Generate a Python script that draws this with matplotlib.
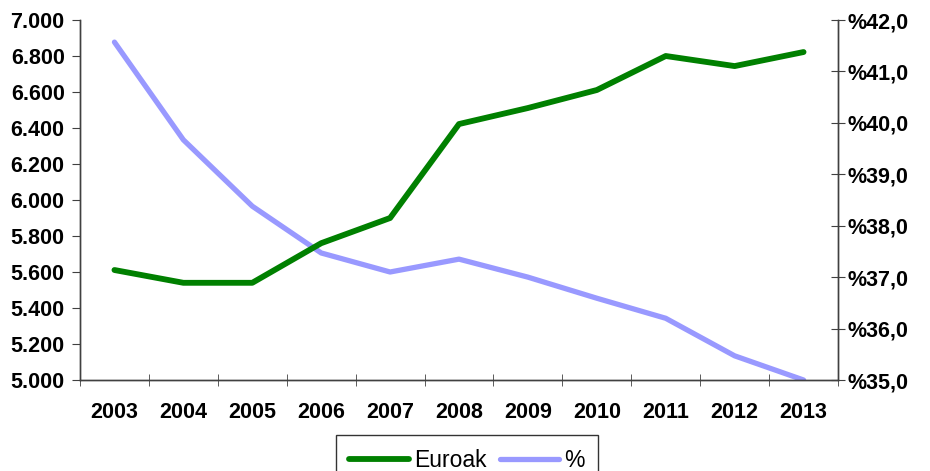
import numpy as np
import matplotlib.pyplot as plt
from matplotlib.ticker import FuncFormatter, FixedLocator

#--------------
#Data
#--------------
years = ["2003", "2004", "2005", "2006", "2007", "2008", "2009", "2010", "2011", "2012", "2013"]
euroak = [5611, 5540, 5540, 5760, 5900, 6422, 6511, 6611, 6800, 6744, 6822]
percent = [41.57, 39.67, 38.38, 37.47, 37.10, 37.35, 37.00, 36.59, 36.20, 35.47, 35.00]

plt.rcParams['font.family'] = ['Liberation Sans', 'DejaVu Sans']

#--------------
#Figure
#--------------
fig = plt.figure(figsize=(9.3, 4.71), dpi=100)
ax = fig.add_axes([80/930, 1-380/471, 758/930, 360/471])
ax2 = ax.twinx()

x = np.arange(len(years))
l1, = ax.plot(x, euroak, color="#008000", lw=4.2, solid_capstyle="round", label="Euroak", zorder=3)
l2, = ax2.plot(x, percent, color="#9999FF", lw=3.8, solid_capstyle="round", label="%", zorder=2)
ax.set_zorder(ax2.get_zorder()+1)
ax.patch.set_visible(False)

ax.set_xlim(-0.5, len(years)-0.5)
ax.set_ylim(5000, 7000)
ax2.set_ylim(35, 42)
ax.set_yticks(np.arange(5000, 7001, 200))
ax2.set_yticks(np.arange(35, 42.1, 1))
ax.yaxis.set_major_formatter(FuncFormatter(lambda v, p: f"{int(v):,}".replace(",", ".")))
ax2.yaxis.set_major_formatter(FuncFormatter(lambda v, p: "%" + f"{v:.1f}".replace(".", ",")))

ax.set_xticks(x)
ax.set_xticklabels(years)
ax.xaxis.set_minor_locator(FixedLocator(np.arange(-0.5, len(years), 1)))
ax.tick_params(axis="x", which="major", length=0, pad=16)
ax.tick_params(axis="x", which="minor", length=9, direction="inout", color="#404040")
ax.tick_params(axis="y", length=6, direction="out", color="#404040", pad=5)
ax2.tick_params(axis="y", length=10, direction="inout", color="#404040", pad=2)

for a in (ax, ax2):
    a.spines["top"].set_visible(False)
    for s in ("left", "right", "bottom"):
        a.spines[s].set_color("#404040")
        a.spines[s].set_linewidth(1)
    for lab in a.get_xticklabels() + a.get_yticklabels():
        lab.set_fontsize(15.5)
        lab.set_fontweight("bold")

leg = fig.legend([l1, l2], ["Euroak", "%"], loc="upper center",
                 bbox_to_anchor=(467/930, 1-424/471), ncol=2, frameon=True,
                 fancybox=False, edgecolor="black", fontsize=16.5,
                 handlelength=2.6, handletextpad=0.2, columnspacing=0.6,
                 borderpad=0.6)
leg.get_frame().set_linewidth(1)

fig.savefig("out.png", dpi=100)
